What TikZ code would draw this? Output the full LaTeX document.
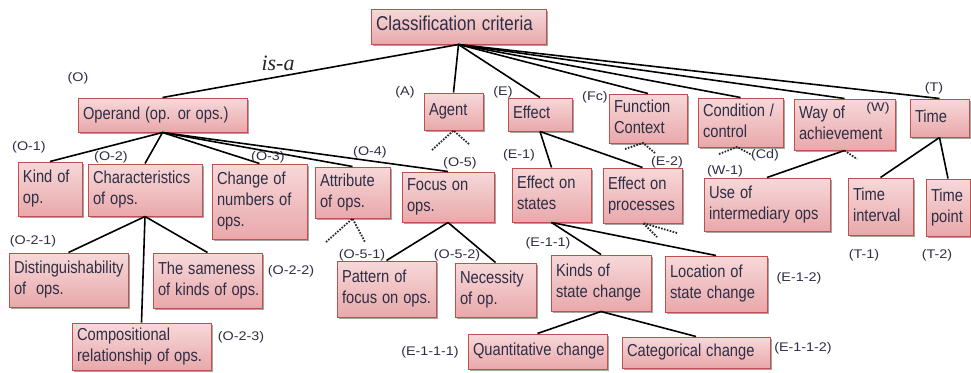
\documentclass[tikz,border=0pt]{standalone}
\usepackage{fontspec}
\setmainfont{Liberation Sans}
\newfontfamily\serifit{Liberation Serif}
\usetikzlibrary{shadows}
\definecolor{boxborder}{HTML}{C0504D}
\definecolor{boxtop}{HTML}{F7D8D9}
\definecolor{boxbot}{HTML}{E9A8AB}
\definecolor{txt}{HTML}{2E2E44}
\newcommand\bt[1]{\scalebox{1}[1.18]{\begin{tabular}{@{}l@{}}#1\end{tabular}}}
\newcommand\lbl[1]{\scalebox{1.15}[1]{#1}}
\tikzset{
 box/.style={draw=boxborder, line width=1pt, top color=boxtop, bottom color=boxbot,
   drop shadow={shadow xshift=1.5pt, shadow yshift=-2pt, opacity=0.35, fill=black},
   inner xsep=5pt, inner ysep=1pt, font=\fontsize{14.7}{17.8}\selectfont, text=txt, align=left},
 lab/.style={font=\fontsize{12.5}{14}\selectfont, text=txt, inner sep=0pt},
 link/.style={line width=1.6pt, black},
 dots/.style={line width=1.8pt, dash pattern=on 1.6pt off 1.4pt, black!85},
}
\begin{document}
\begin{tikzpicture}[x=1pt,y=-1pt]
\useasboundingbox (0,0) rectangle (971,372);
% boxes
\node[box, minimum width=175pt, text width=165pt, minimum height=35pt, font=\fontsize{17}{19}\selectfont] (root) at (458.5,26.5) {\bt{Classification criteria}};
\node[box, minimum width=169pt, text width=159pt, minimum height=34pt] (operand) at (162.5,115) {\bt{Operand (op. or ops.)}};
\node[box, minimum width=59pt, text width=49pt, minimum height=37pt] (agent) at (453.5,111.5) {\bt{Agent}};
\node[box, minimum width=64pt, text width=54pt, minimum height=33pt] (effect) at (540,114.5) {\bt{Effect}};
\node[box, minimum width=78pt, text width=68pt, minimum height=49pt] (func) at (648,118.5) {\bt{Function\\Context}};
\node[box, minimum width=85pt, text width=75pt, minimum height=49pt] (cond) at (740.5,122.5) {\bt{Condition /\\control}};
\node[box, minimum width=101pt, text width=91pt, minimum height=51pt] (way) at (844.5,124.5) {\bt{Way of\\achievement}};
\node[box, minimum width=59pt, text width=49pt, minimum height=38pt] (time) at (939.5,118) {\bt{Time}};
\node[box, minimum width=64pt, text width=54pt, minimum height=54pt] (kind) at (50,189) {\bt{Kind of\\op.}};
\node[box, minimum width=114pt, text width=104pt, minimum height=52pt] (charac) at (145,190) {\bt{Characteristics\\of ops.}};
\node[box, minimum width=95pt, text width=85pt, minimum height=75pt] (change) at (259.5,201.5) {\bt{Change of\\numbers of\\ops.}};
\node[box, minimum width=75pt, text width=65pt, minimum height=51pt] (attr) at (352.5,192.5) {\bt{Attribute\\of ops.}};
\node[box, minimum width=92pt, text width=82pt, minimum height=50pt] (focus) at (448,197) {\bt{Focus on\\ops.}};
\node[box, minimum width=79pt, text width=69pt, minimum height=54pt] (effst) at (551.5,195) {\bt{Effect on\\states}};
\node[box, minimum width=79pt, text width=69pt, minimum height=55pt] (effpr) at (642.5,195.5) {\bt{Effect on\\processes}};
\node[box, minimum width=126pt, text width=116pt, minimum height=53pt] (use) at (767,204.5) {\bt{Use of\\intermediary ops}};
\node[box, minimum width=65pt, text width=55pt, minimum height=57pt] (tint) at (880.5,206.5) {\bt{Time\\interval}};
\node[box, minimum width=44pt, text width=34pt, minimum height=57pt] (tpt) at (948,207.5) {\bt{Time\\point}};
\node[box, minimum width=119pt, text width=109pt, minimum height=54pt] (dist) at (68.5,280) {\bt{Distinguishability\\of~ ops.}};
\node[box, minimum width=109pt, text width=99pt, minimum height=55pt] (same) at (207.5,280.5) {\bt{The sameness\\of kinds of ops.}};
\node[box, minimum width=139pt, text width=129pt, minimum height=47pt] (comp) at (141.5,346.5) {\bt{Compositional\\relationship of ops.}};
\node[box, minimum width=99pt, text width=89pt, minimum height=56pt] (patt) at (386.5,289) {\bt{Pattern of\\focus on ops.}};
\node[box, minimum width=81pt, text width=71pt, minimum height=54pt] (nec) at (495.5,290) {\bt{Necessity\\of op.}};
\node[box, minimum width=100pt, text width=90pt, minimum height=56pt] (kinds) at (601,283) {\bt{Kinds of\\state change}};
\node[box, minimum width=102pt, text width=92pt, minimum height=56pt] (loc) at (716,284) {\bt{Location of\\state change}};
\node[box, minimum width=139pt, text width=129pt, minimum height=35pt] (quant) at (537.5,351.5) {\bt{Quantitative change}};
\node[box, minimum width=148pt, text width=138pt, minimum height=31pt] (cat) at (696,352.5) {\bt{Categorical change}};
% solid links
\foreach \c in {operand,agent,effect,func,cond,way,time}
  \draw[link] (root.south) -- (\c.north);
\foreach \c in {kind,charac,change,attr,focus}
  \draw[link] (operand.south) -- (\c.north);
\foreach \c in {dist,same,comp}
  \draw[link] (charac.south) -- (\c.north);
\foreach \c in {patt,nec}
  \draw[link] (focus.south) -- (\c.north);
\foreach \c in {effst,effpr}
  \draw[link] (effect.south) -- (\c.north);
\foreach \c in {kinds,loc}
  \draw[link] (effst.south) -- (\c.north);
\foreach \c in {quant,cat}
  \draw[link] (kinds.south) -- (\c.north);
\draw[link] (way.south) -- (use.north);
\foreach \c in {tint,tpt}
  \draw[link] (time.south) -- (\c.north);
% dotted stubs
\coordinate (agL) at (432,150); \coordinate (agR) at (470,145);
\draw[dots] (agL) -- (agent.south) -- (agR);
\coordinate (fcA) at (643,143); \coordinate (fcL) at (625,149); \coordinate (fcR) at (655,153);
\draw[dots] (fcL) -- (fcA) -- (fcR);
\coordinate (cdA) at (737,147); \coordinate (cdL) at (719,154); \coordinate (cdR) at (752,155);
\draw[dots] (cdL) -- (cdA) -- (cdR);
\coordinate (wyR) at (857,159);
\draw[dots] (way.south) -- (wyR);
\coordinate (atL) at (326,242); \coordinate (atR) at (365,242);
\draw[dots] (atL) -- (attr.south) -- (atR);
\coordinate (epA) at (643,223); \coordinate (epR) at (677,233); \coordinate (epL) at (657,237);
\draw[dots] (epR) -- (epA) -- (epL);
% labels
\node[font=\serifit\itshape\fontsize{22}{24}\selectfont, text=black!85, inner sep=0pt] (isa) at (278,63) {is-a};
\node[lab] (lO) at (78,78) {\lbl{(O)}};
\node[lab] (lA) at (405,92) {\lbl{(A)}};
\node[lab] (lE) at (503,92) {\lbl{(E)}};
\node[lab] (lFc) at (595,97) {\lbl{(Fc)}};
\node[lab] (lW) at (878,108) {\lbl{(W)}};
\node[lab] (lT) at (934,88) {\lbl{(T)}};
\node[lab] (lO1) at (29,147) {\lbl{(O-1)}};
\node[lab] (lO2) at (111,157) {\lbl{(O-2)}};
\node[lab] (lO3) at (268,157) {\lbl{(O-3)}};
\node[lab] (lO4) at (370,152) {\lbl{(O-4)}};
\node[lab] (lO5) at (460,163) {\lbl{(O-5)}};
\node[lab] (lE1) at (519,155) {\lbl{(E-1)}};
\node[lab] (lE2) at (667,162) {\lbl{(E-2)}};
\node[lab] (lCd) at (765,155) {\lbl{(Cd)}};
\node[lab] (lW1) at (725,171) {\lbl{(W-1)}};
\node[lab] (lO21) at (33,241) {\lbl{(O-2-1)}};
\node[lab] (lO22) at (291,271) {\lbl{(O-2-2)}};
\node[lab] (lO23) at (241,337) {\lbl{(O-2-3)}};
\node[lab] (lO51) at (362,255) {\lbl{(O-5-1)}};
\node[lab] (lO52) at (457,255) {\lbl{(O-5-2)}};
\node[lab] (lE111) at (430,352) {\lbl{(E-1-1-1)}};
\node[lab] (lE11) at (548,243) {\lbl{(E-1-1)}};
\node[lab] (lE12) at (799,278) {\lbl{(E-1-2)}};
\node[lab] (lE112) at (803,348) {\lbl{(E-1-1-2)}};
\node[lab] (lT1) at (864,255) {\lbl{(T-1)}};
\node[lab] (lT2) at (937,255) {\lbl{(T-2)}};
\end{tikzpicture}
\end{document}
